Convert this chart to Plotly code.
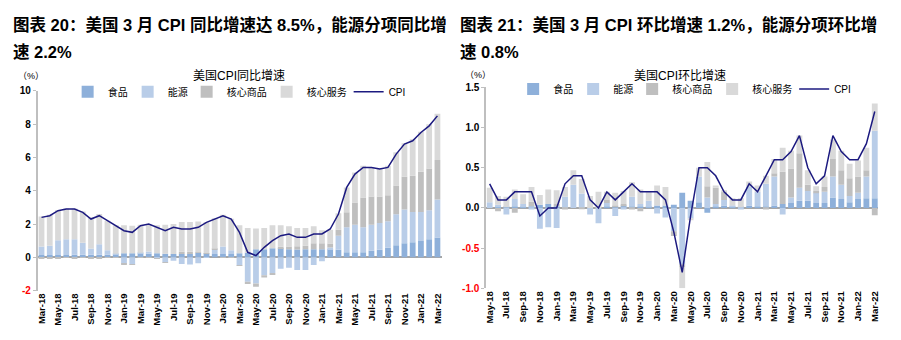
import plotly.graph_objects as go

# ---------------- data ----------------
yoy_months = ["Mar-18", "Apr-18", "May-18", "Jun-18", "Jul-18", "Aug-18", "Sep-18", "Oct-18", "Nov-18", "Dec-18",
              "Jan-19", "Feb-19", "Mar-19", "Apr-19", "May-19", "Jun-19", "Jul-19", "Aug-19", "Sep-19", "Oct-19",
              "Nov-19", "Dec-19", "Jan-20", "Feb-20", "Mar-20", "Apr-20", "May-20", "Jun-20", "Jul-20", "Aug-20",
              "Sep-20", "Oct-20", "Nov-20", "Dec-20", "Jan-21", "Feb-21", "Mar-21", "Apr-21", "May-21", "Jun-21",
              "Jul-21", "Aug-21", "Sep-21", "Oct-21", "Nov-21", "Dec-21", "Jan-22", "Feb-22", "Mar-22"]

yoy_food = [0.14, 0.14, 0.14, 0.14, 0.15, 0.15, 0.15, 0.15, 0.16, 0.18,
            0.24, 0.24, 0.25, 0.22, 0.25, 0.22, 0.20, 0.20, 0.20, 0.28,
            0.24, 0.20, 0.20, 0.20, 0.24, 0.28, 0.49, 0.49, 0.55, 0.55,
            0.49, 0.47, 0.48, 0.49, 0.49, 0.49, 0.45, 0.30, 0.30, 0.30,
            0.40, 0.45, 0.58, 0.72, 0.84, 0.90, 0.98, 1.08, 1.19]
yoy_energy = [0.51, 0.56, 0.88, 0.94, 0.93, 0.73, 0.38, 0.63, 0.27, 0.03,
              -0.39, -0.43, 0.02, 0.13, -0.04, -0.30, -0.20, -0.40, -0.43, -0.35,
              -0.02, 0.29, 0.45, 0.23, -0.49, -1.47, -1.57, -1.08, -0.95, -0.69,
              -0.63, -0.76, -0.76, -0.47, -0.24, 0.10, 0.85, 1.50, 1.66, 1.50,
              1.56, 1.61, 1.58, 1.87, 2.04, 1.82, 1.74, 1.74, 2.28]
yoy_core_goods = [-0.05, -0.05, -0.04, -0.03, -0.04, -0.03, -0.06, -0.04, -0.03, -0.02,
                  -0.02, -0.02, -0.02, -0.02, -0.03, -0.02, 0.00, 0.14, 0.14, 0.02,
                  0.02, 0.02, -0.02, -0.02, -0.02, -0.14, -0.20, -0.14, -0.10, 0.08,
                  0.16, 0.20, 0.22, 0.35, 0.35, 0.24, 0.35, 0.90, 1.34, 1.80,
                  1.70, 1.60, 1.57, 1.72, 1.96, 2.18, 2.42, 2.51, 2.37]
yoy_core_services = [1.80, 1.85, 1.82, 1.86, 1.86, 1.87, 1.87, 1.82, 1.77, 1.71,
                     1.68, 1.66, 1.69, 1.61, 1.67, 1.74, 1.80, 1.78, 1.78, 1.85,
                     1.84, 1.84, 1.90, 1.88, 1.68, 1.48, 1.24, 1.27, 1.37, 1.29,
                     1.21, 1.09, 1.06, 1.02, 0.79, 0.82, 1.00, 1.50, 1.80, 1.90,
                     1.74, 1.69, 1.77, 2.00, 2.02, 2.20, 2.41, 2.67, 2.79]
yoy_cpi = [2.4, 2.5, 2.8, 2.9, 2.9, 2.7, 2.3, 2.5, 2.2, 1.9,
           1.6, 1.5, 1.9, 2.0, 1.8, 1.6, 1.8, 1.7, 1.7, 1.8,
           2.1, 2.3, 2.5, 2.3, 1.5, 0.3, 0.1, 0.6, 1.0, 1.3,
           1.4, 1.2, 1.2, 1.4, 1.4, 1.7, 2.6, 4.2, 5.0, 5.4,
           5.4, 5.3, 5.4, 6.2, 6.8, 7.0, 7.5, 7.9, 8.5]

mom_months = yoy_months[2:]
mom_food = [0.00, 0.01, 0.01, 0.02, 0.01, 0.02, 0.04, 0.05, 0.02, 0.00,
            0.00, 0.00, 0.00, 0.00, 0.02, 0.01, 0.03, 0.02, 0.02, 0.01,
            0.03, 0.03, 0.04, 0.19, 0.09, 0.07, -0.06, 0.02, 0.03, 0.01,
            0.01, 0.03, 0.02, 0.02, 0.03, 0.05, 0.06, 0.09, 0.09, 0.06,
            0.06, 0.13, 0.11, 0.07, 0.11, 0.12, 0.12]
mom_energy = [0.07, 0.03, -0.08, 0.09, 0.04, -0.02, -0.26, -0.24, -0.25, 0.14,
              0.29, 0.18, -0.08, -0.19, 0.04, -0.10, -0.02, 0.12, 0.03, 0.08,
              -0.07, -0.12, -0.29, -0.70, -0.13, 0.32, 0.13, 0.03, 0.07, 0.02,
              -0.02, 0.24, 0.18, 0.28, 0.36, -0.08, 0.07, 0.16, 0.12, 0.13,
              0.14, 0.26, 0.18, 0.08, 0.08, 0.27, 0.84]
mom_core_goods = [0.00, -0.04, 0.00, -0.06, 0.00, 0.06, 0.00, 0.00, 0.03, -0.02,
                  0.00, -0.01, 0.00, 0.00, 0.04, 0.02, 0.02, -0.02, -0.04, 0.00,
                  0.00, 0.00, -0.06, -0.04, 0.00, 0.00, 0.14, 0.20, 0.10, 0.00,
                  0.00, 0.00, 0.00, -0.02, 0.04, 0.40, 0.36, 0.43, 0.08, 0.02,
                  0.06, 0.22, 0.18, 0.22, 0.20, 0.08, -0.09]
mom_core_services = [0.18, 0.11, 0.13, 0.12, 0.12, 0.18, 0.12, 0.18, 0.17, 0.12,
                     0.18, 0.18, 0.15, 0.20, 0.10, 0.16, 0.16, 0.18, 0.18, 0.12,
                     0.25, 0.23, 0.00, -0.26, -0.02, 0.11, 0.30, 0.03, 0.02, 0.09,
                     0.11, 0.06, 0.08, 0.10, 0.18, 0.30, 0.22, 0.22, 0.18, 0.06,
                     0.13, 0.24, 0.24, 0.18, 0.20, 0.28, 0.34]
mom_cpi = [0.3, 0.1, 0.1, 0.2, 0.2, 0.2, -0.1, 0.0, 0.0, 0.3,
           0.4, 0.4, 0.1, 0.0, 0.2, 0.1, 0.2, 0.3, 0.2, 0.2,
           0.2, 0.1, -0.3, -0.8, -0.1, 0.5, 0.5, 0.4, 0.2, 0.1,
           0.1, 0.3, 0.2, 0.4, 0.6, 0.6, 0.7, 0.9, 0.5, 0.3,
           0.4, 0.9, 0.7, 0.6, 0.6, 0.8, 1.2]

series_names = ["食品", "能源", "核心商品", "核心服务"]
series_colors = ["#8eb0da", "#b9cde8", "#bfbfbf", "#d9d9d9"]
line_color = "#1c1a80"

yoy_ticks = yoy_months[::2]
mom_ticks = mom_months[::2]

yoy_yvals = [-2, 0, 2, 4, 6, 8, 10]
yoy_ytext = ["<span style='color:#ff0000'>-2</span>", "0", "2", "4", "6", "8", "10"]
mom_yvals = [-1.0, -0.5, 0.0, 0.5, 1.0, 1.5]
mom_ytext = ["<span style='color:#ff0000'>-1.0</span>", "<span style='color:#ff0000'>-0.5</span>",
             "0.0", "0.5", "1.0", "1.5"]

titles_left = ["图表 20：美国 3 月 CPI 同比增速达 8.5%，能源分项同比增", "速 2.2%"]
titles_right = ["图表 21：美国 3 月 CPI 环比增速 1.2%，能源分项环比增", "速 0.8%"]
sub_left = "美国CPI同比增速"
sub_right = "美国CPI环比增速"
unit = "（%）"

# ---------------- figure ----------------
W, H = 901, 340
FONT = "Liberation Sans, Arial, Noto Sans CJK SC, sans-serif"

def px(x):
    return x / W

def py(y):
    return 1 - y / H

fig = go.Figure()

yoy_comp = [yoy_food, yoy_energy, yoy_core_goods, yoy_core_services]
mom_comp = [mom_food, mom_energy, mom_core_goods, mom_core_services]
legend_widths = [15, 14, 35, 37]

for name, vals, col, lw in zip(series_names, yoy_comp, series_colors, legend_widths):
    fig.add_trace(go.Bar(x=yoy_months, y=vals, name=name, marker=dict(color=col, line=dict(width=0)),
                         xaxis="x", yaxis="y", legend="legend", legendwidth=lw))
fig.add_trace(go.Scatter(x=yoy_months, y=yoy_cpi, name="CPI", mode="lines",
                         line=dict(color=line_color, width=1.5), xaxis="x", yaxis="y", legend="legend"))

for name, vals, col, lw in zip(series_names, mom_comp, series_colors, legend_widths):
    fig.add_trace(go.Bar(x=mom_months, y=vals, name=name, marker=dict(color=col, line=dict(width=0)),
                         xaxis="x2", yaxis="y2", legend="legend2", legendwidth=lw))
fig.add_trace(go.Scatter(x=mom_months, y=mom_cpi, name="CPI", mode="lines",
                         line=dict(color=line_color, width=1.5), xaxis="x2", yaxis="y2", legend="legend2"))

axis_gray = "#bfbfbf"
xcommon = dict(type="category", tickangle=-90, tickfont=dict(family=FONT, size=9.5, color="#000000", weight="bold"),
               showline=False, ticks="", showgrid=False, zeroline=False)
ycommon = dict(showgrid=False, showline=True, linecolor=axis_gray, linewidth=2, ticks="outside",
               ticklen=3, tickcolor=axis_gray, tickwidth=1,
               tickfont=dict(family=FONT, size=10, color="#000000", weight="bold"),
               zeroline=True, zerolinecolor="#a6a6a6", zerolinewidth=2)

fig.update_layout(
    width=W, height=H,
    margin=dict(l=0, r=0, t=0, b=0),
    paper_bgcolor="white", plot_bgcolor="white",
    barmode="relative", bargap=0.3,
    showlegend=True,
    font=dict(family=FONT, color="#000000"),
    xaxis=dict(xcommon, domain=[px(35), px(441)], anchor="y", range=[-0.45, 48.5],
               tickvals=yoy_ticks, ticktext=yoy_ticks),
    yaxis=dict(ycommon, domain=[py(295), py(88)], anchor="x", range=[-2, 10],
               tickvals=yoy_yvals, ticktext=yoy_ytext),
    xaxis2=dict(xcommon, domain=[px(486), px(880)], anchor="y2", range=[-0.4, 46.4],
                tickvals=mom_ticks, ticktext=mom_ticks),
    yaxis2=dict(ycommon, domain=[py(292.7), py(84.3)], anchor="x2", range=[-1.0, 1.5],
                tickvals=mom_yvals, ticktext=mom_ytext),
    legend=dict(orientation="h", x=px(65), y=py(89), xanchor="left", yanchor="middle",
                font=dict(family=FONT, size=10, color="#000000"), bgcolor="rgba(0,0,0,0)",
                traceorder="normal", itemwidth=30, itemclick=False),
    legend2=dict(orientation="h", x=px(513), y=py(86), xanchor="left", yanchor="middle",
                 font=dict(family=FONT, size=10, color="#000000"), bgcolor="rgba(0,0,0,0)",
                 traceorder="normal", itemwidth=30, itemclick=False),
)

ann = []
title_font = dict(family=FONT, size=16.5, color="#000000")
for (lines, x0) in [(titles_left, 8), (titles_right, 458)]:
    for k, (txt, yc) in enumerate(zip(lines, [19.5, 47.5])):
        ann.append(dict(text="<b>" + txt + "</b>", x=px(x0), y=py(yc), xref="paper", yref="paper",
                        xanchor="left", yanchor="middle", showarrow=False, font=title_font))
for txt, xc, yc in [(sub_left, 237, 73), (sub_right, 681, 73)]:
    ann.append(dict(text=txt, x=px(xc), y=py(yc), xref="paper", yref="paper", xanchor="center",
                    yanchor="middle", showarrow=False, font=dict(family=FONT, size=12, color="#000000")))
for xc, yc in [(28, 73), (478, 72)]:
    ann.append(dict(text=unit, x=px(xc), y=py(yc), xref="paper", yref="paper", xanchor="center",
                    yanchor="middle", showarrow=False, borderpad=0,
                    font=dict(family=FONT, size=9, color="#000000")))
fig.update_layout(annotations=ann)

fig.write_html("out.html")
